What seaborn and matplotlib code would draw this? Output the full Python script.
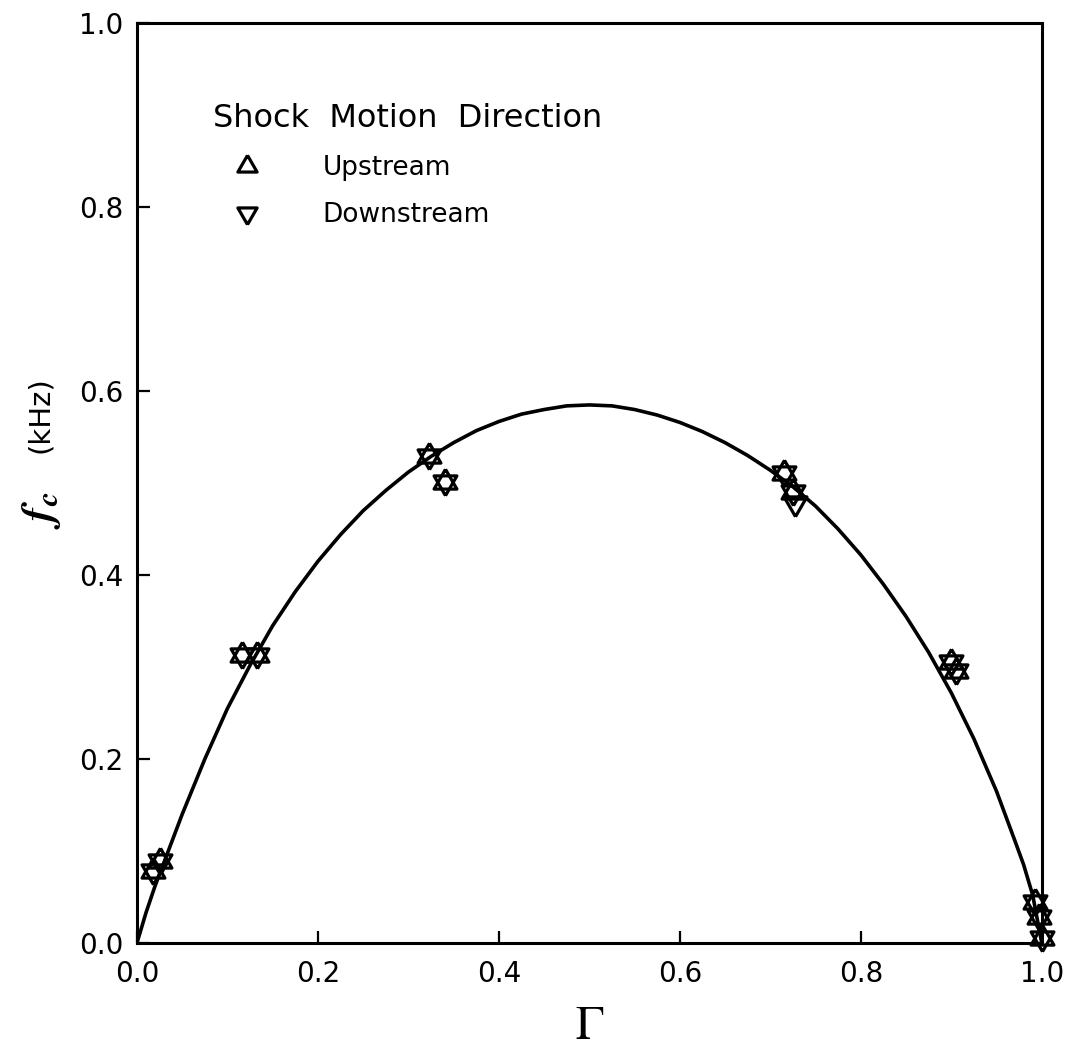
import numpy as np
import matplotlib
matplotlib.use("Agg")
import matplotlib.pyplot as plt
from matplotlib.lines import Line2D
import seaborn as sns
import pandas as pd

# fitted curve
curve_gamma = [0.0, 0.01, 0.02, 0.03, 0.05, 0.075, 0.10, 0.125, 0.15, 0.175, 0.20,
               0.225, 0.25, 0.275, 0.30, 0.325, 0.35, 0.375, 0.40, 0.425, 0.45,
               0.475, 0.50, 0.525, 0.55, 0.575, 0.60, 0.625, 0.65, 0.675, 0.70,
               0.725, 0.75, 0.775, 0.80, 0.825, 0.85, 0.875, 0.90, 0.925, 0.95,
               0.97, 0.98, 0.99, 1.0]
curve_fc = [0.0, 0.033, 0.062, 0.088, 0.140, 0.200, 0.255, 0.302, 0.345, 0.382, 0.415,
            0.444, 0.470, 0.492, 0.512, 0.529, 0.544, 0.557, 0.567, 0.575, 0.580,
            0.584, 0.585, 0.584, 0.580, 0.574, 0.566, 0.556, 0.544, 0.530, 0.514,
            0.496, 0.475, 0.450, 0.422, 0.390, 0.355, 0.316, 0.272, 0.222, 0.165,
            0.112, 0.085, 0.052, 0.0]

# measured points
up_gamma = [0.018, 0.025, 0.116, 0.133, 0.323, 0.341, 0.715, 0.725, 0.900, 0.905, 0.993, 0.997, 1.0]
up_fc = [0.078, 0.089, 0.313, 0.313, 0.530, 0.501, 0.511, 0.490, 0.305, 0.296, 0.045, 0.028, 0.005]
down_gamma = [0.018, 0.025, 0.116, 0.133, 0.323, 0.341, 0.715, 0.725, 0.727, 0.900, 0.905, 0.993, 0.997, 1.0]
down_fc = [0.078, 0.089, 0.313, 0.313, 0.530, 0.501, 0.511, 0.490, 0.478, 0.305, 0.296, 0.045, 0.028, 0.005]

ticks = [0.0, 0.2, 0.4, 0.6, 0.8, 1.0]
legend_labels = ["Upstream", "Downstream"]

sns.set_theme(style="ticks")
plt.rcParams["font.family"] = ["DejaVu Sans"]
plt.rcParams["mathtext.fontset"] = "stix"
plt.rcParams["text.color"] = "black"
plt.rcParams["axes.labelcolor"] = "black"

# equilateral triangles centred on their centroid, so up+down gives a star
tri_up = [(0, 1), (-0.866, -0.5), (0.866, -0.5), (0, 1)]
tri_down = [(0, -1), (-0.866, 0.5), (0.866, 0.5), (0, -1)]

fig = plt.figure(figsize=(10.81, 10.56), dpi=100)
ax = fig.add_axes([0.1267, 0.107, 0.837, 0.871])

curve = pd.DataFrame({"g": curve_gamma, "f": curve_fc})
sns.lineplot(data=curve, x="g", y="f", color="black", lw=2.6, sort=False,
             estimator=None, ax=ax)

up = pd.DataFrame({"g": up_gamma, "f": up_fc})
down = pd.DataFrame({"g": down_gamma, "f": down_fc})
for df, mk in [(up, tri_up), (down, tri_down)]:
    sns.lineplot(data=df, x="g", y="f", marker=mk, linestyle="", markersize=19,
                 mfc="none", mec="black", mew=2.3, color="black", sort=False,
                 estimator=None, clip_on=False, ax=ax)

ax.set_xlim(0, 1)
ax.set_ylim(0, 1)
ax.set_xticks(ticks)
ax.set_yticks(ticks)
ax.set_xticklabels([f"{t:.1f}" for t in ticks])
ax.set_yticklabels([f"{t:.1f}" for t in ticks])
ax.tick_params(direction="in", length=9, width=1.6, labelsize=20, colors="black")
ax.tick_params(axis="x", pad=12)
ax.tick_params(axis="y", pad=10)
for sp in ax.spines.values():
    sp.set_visible(True)
    sp.set_linewidth(2.2)
    sp.set_color("black")

ax.set_xlabel(r"$\Gamma$", fontsize=34, labelpad=12)
ax.set_ylabel("")
# y label in two pieces: large italic f_c and the unit
ax.text(-0.105, 0.47, r"$\mathbfit{f_c}$", rotation=90, fontsize=32,
        ha="center", va="center", transform=ax.transAxes)
ax.text(-0.107, 0.575, "(kHz)", rotation=90, fontsize=21,
        ha="center", va="center", transform=ax.transAxes)

handles = [Line2D([], [], marker=tri_up, linestyle="", markersize=16, mfc="none",
                  mec="black", mew=2.3),
           Line2D([], [], marker=tri_down, linestyle="", markersize=16, mfc="none",
                  mec="black", mew=2.3)]
ax.legend(handles, legend_labels, title="Shock  Motion  Direction", loc="upper left",
          bbox_to_anchor=(0.084, 0.913), frameon=False, fontsize=19, title_fontsize=23,
          handlelength=2.6, handletextpad=1.55, labelspacing=0.8, alignment="left",
          borderpad=0, borderaxespad=0)

fig.savefig("out.png", dpi=100, facecolor="white")
